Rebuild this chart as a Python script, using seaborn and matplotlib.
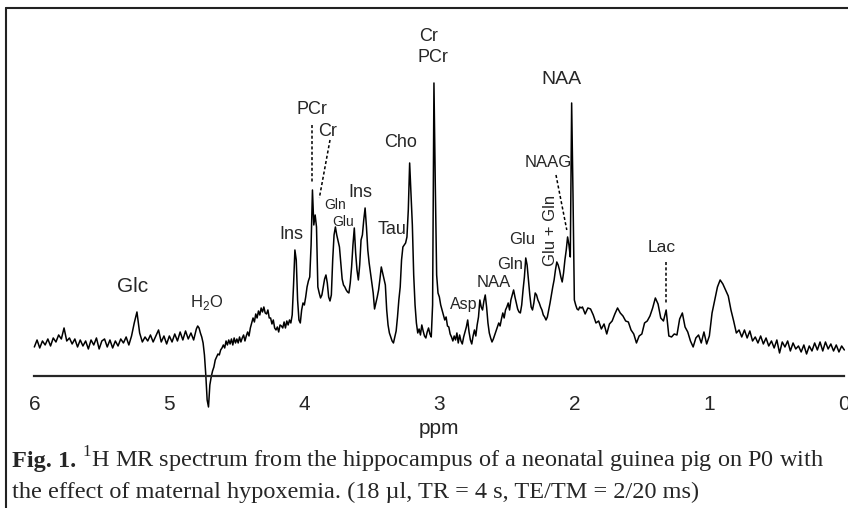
import numpy as np
import matplotlib
matplotlib.use("Agg")
import matplotlib.pyplot as plt
import seaborn as sns
from matplotlib.lines import Line2D

# 1H spectrum, intensity in a.u. (baseline ~ 0)
# every block is sampled evenly from its first to its last ppm value
int_a = [-2, 5, -3, 4, 0, 6, -1, 7, 3, 10,          # 6.00 -> 4.82, step 0.02
         6, 17, 4, 7, 1, 6, -2, 5, -1, 4,
         -4, 5, 0, 7, -4, 4, 6, -2, 5, -3,
         4, -1, 6, 2, 8, 0, 9, 22, 33, 12,
         3, 8, 4, 10, 3, 9, 15, 3, 9, 1,
         9, 3, 11, 4, 13, 5, 14, 6, 12, 5]
int_b = [16, 19, 17, 12, 8, 2, -10, -30, -55, -62,  # 4.80 -> 4.11, step 0.01
         -40, -32, -26, -22, -15, -12, -9, -10, -5, -3,
         0, -3, 4, 0, 5, 1, 6, 0, 7, 2,
         6, 2, 8, 3, 7, 10, 4, 9, 13, 9,
         17, 22, 27, 23, 31, 27, 34, 30, 37, 33,
         38, 32, 31, 35, 27, 27, 21, 25, 17, 15,
         18, 13, 20, 19, 17, 23, 17, 24, 20, 25]
int_c = [22, 30, 60, 95, 85, 45, 25, 22, 35, 42,    # 4.10 -> 1.95, step 0.01
         40, 48, 58, 64, 68, 100, 155, 120, 130, 118,
         58, 52, 47, 50, 58, 66, 70, 62, 48, 44,
         50, 85, 110, 118, 110, 104, 98, 82, 66, 60,
         58, 55, 53, 52, 62, 78, 100, 117, 92, 75,
         65, 80, 105, 110, 125, 137, 118, 95, 82, 72,
         62, 52, 36, 42, 48, 55, 66, 78, 72, 66,
         60, 35, 20, 12, 8, 4, 2, 8, 14, 28,
         45, 58, 85, 98, 100, 102, 108, 135, 182, 150,
         120, 70, 40, 22, 12, 16, 10, 20, 14, 9,
         7, 13, 17, 11, 8, 40, 262, 160, 70, 52,
         48, 40, 35, 30, 25, 28, 19, 18, 11, 8,
         4, 9, 5, 12, 2, 10, 4, 1, 8, 13,
         18, 25, 13, 5, 1, 9, 15, 9, 20, 28,
         45, 38, 35, 44, 50, 38, 22, 12, 7, 3,
         6, 10, 14, 18, 22, 19, 26, 32, 27, 35,
         38, 42, 35, 45, 50, 55, 48, 42, 36, 33,
         32, 40, 55, 68, 87, 80, 65, 50, 38, 35,
         42, 52, 50, 45, 42, 38, 35, 30, 28, 25,
         28, 35, 42, 50, 58, 65, 75, 83, 80, 75,
         68, 63, 72, 85, 95, 108, 100, 88, 242, 150,
         45, 40, 36, 35, 38, 37]
int_d = [38, 31, 37, 36, 30, 22, 24, 16, 21, 11,    # 1.94 -> 0.00, step 0.02
         21, 24, 31, 37, 32, 29, 24, 23, 15, 11,
         2, 9, 11, 22, 24, 29, 37, 47, 41, 27,
         24, 35, 9, 8, 11, 10, 26, 32, 18, 13,
         4, -2, 7, 10, 2, 13, 1, 9, 32, 45,
         58, 65, 61, 55, 49, 35, 24, 12, 15, 8,
         15, 7, 14, 4, 8, 2, 9, 1, 7, -1,
         4, -3, 5, -8, 3, -2, 4, -6, 2, -4,
         -1, -7, 0, -9, -1, -6, 2, -5, 3, -6,
         3, -4, 1, -6, 0, -7, -1, -5]
blocks = [(6.00, 4.82, int_a), (4.80, 4.11, int_b),
          (4.10, 1.95, int_c), (1.94, 0.00, int_d)]

ppm = np.concatenate([np.linspace(s, e, len(v)) for s, e, v in blocks])
intensity = np.concatenate([np.array(v, dtype=float) for s, e, v in blocks])

# peak assignments
label_text = ["Glc", "H$_\\mathsf{2}$O", "Ins", "PCr", "Cr", "Gln", "Glu", "Ins", "Tau",
              "Cho", "Cr", "PCr", "Asp", "NAA", "Gln", "Glu", "NAAG", "NAA", "Lac"]
label_ppm = [5.276, 4.723, 4.093, 3.945, 3.827, 3.773, 3.711, 3.587, 3.353,
             3.291, 3.081, 3.044, 2.822, 2.600, 2.476, 2.390, 2.193, 2.093, 1.353]
label_int = [58, 42, 110, 235, 213, 140, 123, 152, 115,
             202, 308, 287, 40, 62, 80, 105, 182, 265, 97]
label_size = [15, 12, 13, 13, 13, 10, 10, 13, 13,
              13, 13, 13, 11.5, 12, 12, 12, 12, 14, 12.5]

# rotated label
rot_text = "Glu + Gln"
rot_ppm = 2.18
rot_int = 115

# dotted leader lines (ppm pair, intensity pair)
guide_ppm = [(3.941, 3.941), (3.810, 3.889), (2.136, 2.056), (1.321, 1.321)]
guide_int = [(220, 162), (205, 147), (170, 115), (83, 42)]

tick_values = [6, 5, 4, 3, 2, 1, 0]
minor_values = [5.5, 4.5, 3.5, 2.5, 1.5, 0.5]

caption_bold = "Fig. 1."
caption_1 = r"${}^{1}$H MR spectrum from the hippocampus of a neonatal guinea pig on P0 with"
caption_2 = "the effect of maternal hypoxemia. (18 µl, TR = 4 s, TE/TM = 2/20 ms)"

sns.set_style("white")
plt.rcParams["font.family"] = ["Liberation Sans", "DejaVu Sans"]
plt.rcParams["mathtext.fontset"] = "custom"
plt.rcParams["mathtext.rm"] = "Liberation Serif"
plt.rcParams["mathtext.bf"] = "Liberation Serif:bold"
plt.rcParams["mathtext.sf"] = "Liberation Sans"

fig = plt.figure(figsize=(8.48, 5.08), dpi=100)
ax = fig.add_axes([0.0405, 0.2589, 0.9552, 0.7254])

sns.lineplot(x=ppm, y=intensity, sort=False, estimator=None,
             color="black", lw=1.1, ax=ax)
ax.lines[0].set_clip_on(False)

ax.set_xlim(6, 0)
ax.set_ylim(-31.5, 337)
for s in ["left", "right", "top"]:
    ax.spines[s].set_visible(False)
ax.spines["bottom"].set_linewidth(1.6)
ax.yaxis.set_visible(False)
ax.set_xticks(tick_values)
ax.set_xticklabels([str(t) for t in tick_values])
ax.set_xticks(minor_values, minor=True)
ax.tick_params(axis="x", which="major", direction="out", length=7, width=1.6,
               labelsize=15, pad=6)
ax.tick_params(axis="x", which="minor", direction="inout", length=5, width=1.6)
ax.set_xlabel("ppm", fontsize=15, labelpad=4)

narrow = ["Liberation Sans Narrow", "Liberation Sans", "DejaVu Sans"]
for t, x, y, fs in zip(label_text, label_ppm, label_int, label_size):
    fam = ["Liberation Sans", "DejaVu Sans"] if t == "Glc" else narrow
    ax.text(x, y, t, fontsize=fs, family=fam, ha="center", va="center")
ax.text(rot_ppm, rot_int, rot_text, fontsize=12, family=narrow, rotation=90,
        ha="center", va="center")

for xs, ys in zip(guide_ppm, guide_int):
    ax.plot(xs, ys, color="black", lw=1.1, ls=(0, (2, 1.5)))

# caption below the spectrum: bold "Fig. 1." then the rest
renderer = fig.canvas.get_renderer()
fig_w = fig.get_figwidth() * fig.dpi
cap_fs = 17.5
t_bold = fig.text(0.0142, 0.0807, caption_bold, fontsize=cap_fs,
                  family="Liberation Serif", weight="bold", va="baseline")
x_next = t_bold.get_window_extent(renderer=renderer).x1 / fig_w + 5.5 / fig_w
fig.text(x_next, 0.0807, caption_1, fontsize=cap_fs, family="Liberation Serif",
         va="baseline")
fig.text(0.0142, 0.0197, caption_2, fontsize=cap_fs, family="Liberation Serif",
         va="baseline")

# frame round the figure (cut off at right and bottom)
fig.add_artist(Line2D([0.0067, 0.0067], [0, 0.9837], transform=fig.transFigure,
                      color="#222222", lw=1.5))
fig.add_artist(Line2D([0.0067, 1], [0.9837, 0.9837], transform=fig.transFigure,
                      color="#222222", lw=1.5))

fig.savefig("out.png", dpi=100)
